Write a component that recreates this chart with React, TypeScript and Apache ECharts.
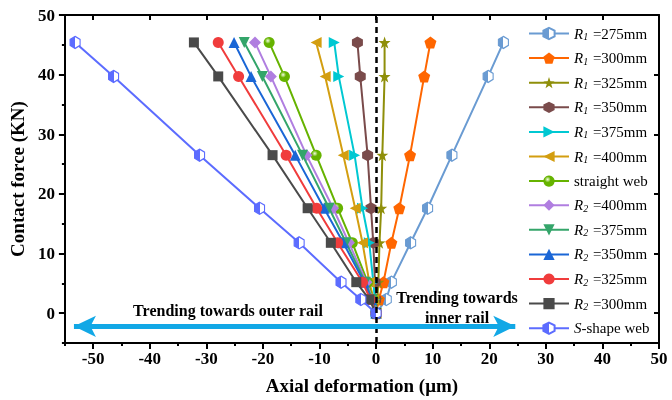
import React, { useEffect, useRef } from "react";
import * as echarts from "echarts";

// Contact force levels (KN) shared by every curve
const forceKN = [0, 2.3, 5.2, 11.8, 17.6, 26.5, 39.7, 45.4];

// Axial deformation (μm) for each web profile
const r1_275 = [0, 1.8, 2.7, 6.1, 9.1, 13.4, 19.8, 22.5];
const r1_300 = [0, 0.5, 1.3, 2.7, 4.1, 6.0, 8.5, 9.6];
const r1_325 = [0, 0.2, 0.4, 0.6, 0.9, 1.1, 1.5, 1.5];
const r1_350 = [0, -0.1, -0.2, -0.5, -0.9, -1.5, -2.8, -3.3];
const r1_375 = [0, -0.2, -0.5, -1.2, -2.4, -3.8, -6.6, -7.4];
const r1_400 = [0, -0.4, -1.2, -2.4, -3.7, -5.8, -9.0, -10.6];
const straightWeb = [0, -0.5, -1.5, -4.2, -6.8, -10.6, -16.2, -18.9];
const r2_400 = [0, -0.6, -1.7, -4.8, -7.6, -12.3, -18.6, -21.4];
const r2_375 = [0, -0.7, -1.9, -5.3, -8.3, -13.0, -20.1, -23.3];
const r2_350 = [0, -0.8, -2.1, -5.8, -9.2, -14.3, -22.1, -25.1];
const r2_325 = [0, -1.0, -2.4, -6.8, -10.5, -15.9, -24.3, -27.9];
const r2_300 = [0, -1.2, -3.5, -8.0, -12.1, -18.3, -27.9, -32.2];
const sShapeWeb = [0, -2.7, -6.2, -13.6, -20.6, -31.2, -46.4, -53.2];

const seriesNames = [
  "R1 =275mm",
  "R1 =300mm",
  "R1 =325mm",
  "R1 =350mm",
  "R1 =375mm",
  "R1 =400mm",
  "straight web",
  "R2 =400mm",
  "R2 =375mm",
  "R2 =350mm",
  "R2 =325mm",
  "R2 =300mm",
  "S-shape web",
];
const seriesValues = [
  r1_275, r1_300, r1_325, r1_350, r1_375, r1_400, straightWeb,
  r2_400, r2_375, r2_350, r2_325, r2_300, sShapeWeb,
];

// Axis ticks
const xMajor = [-50, -40, -30, -20, -10, 0, 10, 20, 30, 40, 50];
const xMinor = [-55, -45, -35, -25, -15, -5, 5, 15, 25, 35, 45];
const yMajor = [0, 10, 20, 30, 40, 50];
const yMinor = [-5, 5, 15, 25, 35, 45];

// Arrow showing the two drift directions
const arrowX = [-53.4, 24.6];
const arrowY = -2.2;

const FONT = '"Liberation Serif", "Times New Roman", serif';

const HEX = "path://M0,-10 L8.66,-5 L8.66,5 L0,10 L-8.66,5 L-8.66,-5 Z";
const PENTA = "path://M0,-10 L9.51,-3.09 L5.88,8.09 L-5.88,8.09 L-9.51,-3.09 Z";
const STAR =
  "path://M0,-10 L2.35,-3.24 L9.51,-3.09 L3.80,1.24 L5.88,8.09 L0,4 L-5.88,8.09 L-3.80,1.24 L-9.51,-3.09 L-2.35,-3.24 Z";

const halfFill = (c: string) =>
  new echarts.graphic.LinearGradient(0, 0, 1, 0, [
    { offset: 0, color: c },
    { offset: 0.5, color: c },
    { offset: 0.5, color: "#ffffff" },
    { offset: 1, color: "#ffffff" },
  ]);

const ballFill = (c: string) =>
  new echarts.graphic.RadialGradient(0.38, 0.35, 0.6, [
    { offset: 0, color: "#f4ffe0" },
    { offset: 0.45, color: c },
    { offset: 1, color: c },
  ]);

type Style = {
  color: string;
  symbol: string;
  size: number | number[];
  rotate?: number;
  fill?: "half" | "ball";
};

const styles: Style[] = [
  { color: "#6a9bd2", symbol: HEX, size: [10, 12], fill: "half" },
  { color: "#ff6600", symbol: PENTA, size: 12 },
  { color: "#8f8f0a", symbol: STAR, size: 12 },
  { color: "#7a4b4b", symbol: HEX, size: [11, 12] },
  { color: "#00c8d2", symbol: "triangle", size: 11, rotate: -90 },
  { color: "#d39e10", symbol: "triangle", size: 11, rotate: 90 },
  { color: "#66b300", symbol: "circle", size: 11, fill: "ball" },
  { color: "#b07ee0", symbol: "diamond", size: 12 },
  { color: "#34a56a", symbol: "triangle", size: 11, rotate: 180 },
  { color: "#1a66d6", symbol: "triangle", size: 11 },
  { color: "#f03c3c", symbol: "circle", size: 11 },
  { color: "#4a4a4a", symbol: "rect", size: 10 },
  { color: "#5c6cff", symbol: HEX, size: [10, 12], fill: "half" },
];

function legendLabel(name: string): string {
  const m = name.match(/^R(\d) (.*)$/);
  if (m) return `{r|R}{s|${m[1]}}{t| ${m[2]}}`;
  if (name.startsWith("S-")) return `{r|S}{t|${name.slice(1)}}`;
  return `{t|${name}}`;
}

export default function App() {
  const ref = useRef<HTMLDivElement>(null);

  useEffect(() => {
    if (!ref.current) return;
    const chart = echarts.init(ref.current, undefined, { renderer: "svg" });

    const series: any[] = seriesNames.map((name, i) => {
      const st = styles[i];
      const fillColor =
        st.fill === "half" ? halfFill(st.color) : st.fill === "ball" ? ballFill(st.color) : st.color;
      const s: any = {
        name,
        type: "line",
        xAxisIndex: 0,
        yAxisIndex: 0,
        data: seriesValues[i].map((x, k) => [x, forceKN[k]]),
        symbol: st.symbol,
        symbolSize: st.size,
        symbolRotate: st.rotate ?? 0,
        showAllSymbol: true,
        lineStyle: { color: st.color, width: 2 },
        itemStyle: {
          color: fillColor,
          borderColor: st.color,
          borderWidth: st.fill === "half" ? 1.2 : 0,
        },
        emphasis: { disabled: true },
        z: 3 + i * 0.01,
      };
      return s;
    });

    // dashed zero reference line
    series[0].markLine = {
      silent: true,
      symbol: "none",
      label: { show: false },
      lineStyle: { color: "#000", width: 2.5, type: [6, 4] },
      data: [{ xAxis: 0 }],
    };
    // double-headed direction arrow
    series[seriesNames.length - 1].markLine = {
      silent: true,
      label: { show: false },
      symbol: ["arrow", "arrow"],
      symbolSize: [16, 22],
      lineStyle: { color: "#12a8e6", width: 5, type: "solid" },
      data: [[{ coord: [arrowX[0], arrowY] }, { coord: [arrowX[1], arrowY] }]],
    };

    const labelStyle = { fontFamily: FONT, fontSize: 17, fontWeight: "bold", color: "#000" };
    const baseAxis = { type: "value", splitLine: { show: false } };
    const frameLine = { show: true, lineStyle: { color: "#000", width: 2 } };
    const noteStyle = {
      fontFamily: FONT,
      fontSize: 16,
      fontWeight: "bold",
      fill: "#000",
      textAlign: "center",
      textVerticalAlign: "middle",
    };

    chart.setOption({
      animation: false,
      grid: { left: 64, right: 13, top: 15, bottom: 57, containLabel: false },
      legend: {
        data: seriesNames,
        orient: "vertical",
        left: 528,
        top: 26,
        itemWidth: 40,
        itemHeight: 14,
        itemGap: 9.1,
        padding: 0,
        selectedMode: false,
        formatter: legendLabel,
        textStyle: {
          fontFamily: FONT,
          fontSize: 15,
          color: "#000",
          rich: {
            t: { fontFamily: FONT, fontSize: 15, color: "#000" },
            r: { fontFamily: FONT, fontSize: 15, fontStyle: "italic", color: "#000" },
            s: {
              fontFamily: FONT,
              fontSize: 10,
              fontStyle: "italic",
              color: "#000",
              verticalAlign: "bottom",
              padding: [6, 1, 0, 0],
            },
          },
        },
      },
      xAxis: [
        {
          ...baseAxis,
          position: "bottom",
          min: -55,
          max: 50,
          axisLine: { ...frameLine, onZero: false },
          axisTick: { show: true, customValues: xMajor, length: 6, lineStyle: { width: 2, color: "#000" } },
          axisLabel: { ...labelStyle, customValues: xMajor, margin: 7 },
          name: "Axial deformation (μm)",
          nameLocation: "middle",
          nameGap: 33,
          nameTextStyle: { fontFamily: FONT, fontSize: 19, fontWeight: "bold", color: "#000" },
        },
        {
          ...baseAxis,
          position: "bottom",
          min: -55,
          max: 50,
          axisLine: { show: false, onZero: false },
          axisTick: { show: true, customValues: xMinor, length: 3, lineStyle: { width: 2, color: "#000" } },
          axisLabel: { show: false },
        },
        {
          ...baseAxis,
          position: "top",
          min: -55,
          max: 50,
          axisLine: { ...frameLine, onZero: false },
          axisTick: { show: true, inside: true, customValues: xMajor, length: 5, lineStyle: { width: 2, color: "#000" } },
          axisLabel: { show: false },
        },
      ],
      yAxis: [
        {
          ...baseAxis,
          position: "left",
          min: -5,
          max: 50,
          axisLine: { ...frameLine, onZero: false },
          axisTick: { show: true, customValues: yMajor, length: 6, lineStyle: { width: 2, color: "#000" } },
          axisLabel: { ...labelStyle, customValues: yMajor, margin: 10 },
          name: "Contact force (KN)",
          nameLocation: "middle",
          nameGap: 36,
          nameTextStyle: { fontFamily: FONT, fontSize: 19, fontWeight: "bold", color: "#000" },
        },
        {
          ...baseAxis,
          position: "left",
          min: -5,
          max: 50,
          axisLine: { show: false, onZero: false },
          axisTick: { show: true, customValues: yMinor, length: 3, lineStyle: { width: 2, color: "#000" } },
          axisLabel: { show: false },
        },
        {
          ...baseAxis,
          position: "right",
          min: -5,
          max: 50,
          axisLine: { ...frameLine, onZero: false },
          axisTick: { show: true, inside: true, customValues: yMajor, length: 5, lineStyle: { width: 2, color: "#000" } },
          axisLabel: { show: false },
        },
      ],
      graphic: [
        { type: "text", x: 228, y: 310, z: 10, style: { ...noteStyle, text: "Trending towards outer rail" } },
        { type: "text", x: 457, y: 297, z: 10, style: { ...noteStyle, text: "Trending towards" } },
        { type: "text", x: 457, y: 317, z: 10, style: { ...noteStyle, text: "inner rail" } },
      ],
      series,
    });

    return () => chart.dispose();
  }, []);

  return (
    <div
      ref={ref}
      style={{ position: "fixed", left: 0, top: 0, width: 672, height: 400 }}
    />
  );
}
